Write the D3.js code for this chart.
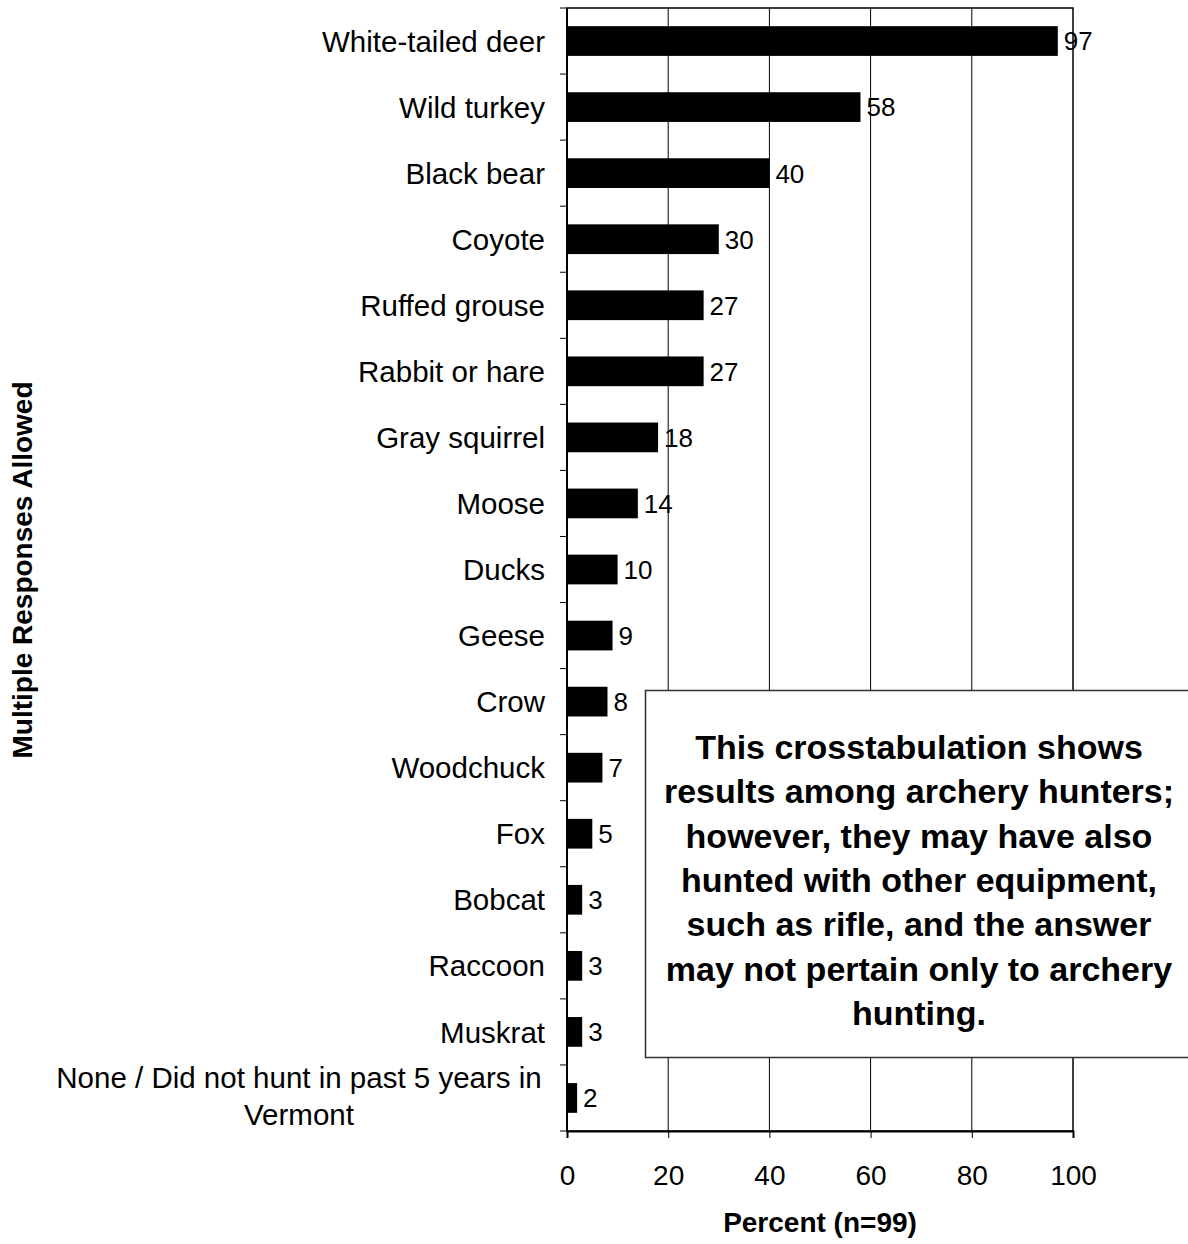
<!DOCTYPE html>
<html><head><meta charset="utf-8">
<script src="https://cdn.jsdelivr.net/npm/d3@7/dist/d3.min.js"></script>
<style>body{margin:0;background:#fff}svg{display:block;font-family:"Liberation Sans",Arial,sans-serif}</style>
</head><body><svg id="c" width="1188" height="1244"></svg>
<script>
const categories = ["White-tailed deer","Wild turkey","Black bear","Coyote","Ruffed grouse","Rabbit or hare","Gray squirrel","Moose","Ducks","Geese","Crow","Woodchuck","Fox","Bobcat","Raccoon","Muskrat","None / Did not hunt in past 5 years in Vermont"];
const values = [97,58,40,30,27,27,18,14,10,9,8,7,5,3,3,3,2];
const xTicks = [0,20,40,60,80,100];
const noteLines = ["This crosstabulation shows","results among archery hunters;","however, they may have also","hunted with other equipment,","such as rifle, and the answer","may not pertain only to archery","hunting."];

const svg = d3.select("#c");
const L=567,R=1073,T=8,B=1131;
const x = d3.scaleLinear().domain([0,100]).range([L,R]);
const y = d3.scaleBand().domain(categories).range([T,B]).paddingInner(0.55).paddingOuter(0.275);
const step = y.step();

// gridlines
svg.append("g").selectAll("line").data(xTicks.filter(d=>d>0&&d<100)).join("line")
  .attr("x1",d=>x(d)).attr("x2",d=>x(d)).attr("y1",T).attr("y2",B)
  .attr("stroke","#000").attr("stroke-width",1);
// plot border
svg.append("rect").attr("x",L).attr("y",T).attr("width",R-L).attr("height",B-T)
  .attr("fill","none").attr("stroke","#000").attr("stroke-width",1.5);

// bars
svg.append("g").selectAll("rect").data(values).join("rect")
  .attr("x",x(0)).attr("y",(d,i)=>y(categories[i]))
  .attr("width",d=>x(d)-x(0)).attr("height",y.bandwidth()).attr("fill","#000");

// y axis ticks at band boundaries
const bounds = d3.range(categories.length+1).map(i=>T+i*step);
svg.append("g").selectAll("line").data(bounds).join("line")
  .attr("x1",L-7).attr("x2",L).attr("y1",d=>d).attr("y2",d=>d).attr("stroke","#000").attr("stroke-width",1);
svg.append("line").attr("x1",L).attr("x2",L).attr("y1",T).attr("y2",B).attr("stroke","#000").attr("stroke-width",2);

// x axis
const xa = svg.append("g").attr("transform",`translate(0,${B})`)
  .call(d3.axisBottom(x).tickValues(xTicks).tickSize(7).tickPadding(27));
xa.select(".domain").attr("stroke-width",2);
xa.selectAll("line").attr("stroke","#000");
xa.selectAll("text").attr("font-size",28).attr("font-family","Liberation Sans, Arial, sans-serif").attr("fill","#000");

// category labels
const lab = svg.append("g").attr("font-size",29.5);
categories.forEach((c,i)=>{
  const cy = y(c)+y.bandwidth()/2;
  if(c.startsWith("None")){
    const t = lab.append("text").attr("text-anchor","middle");
    t.append("tspan").attr("x",299).attr("y",1088).text("None / Did not hunt in past 5 years in");
    t.append("tspan").attr("x",299).attr("y",1125).text("Vermont");
  } else {
    lab.append("text").attr("x",545).attr("y",cy).attr("dy","0.36em").attr("text-anchor","end").text(c);
  }
});

// value labels
svg.append("g").selectAll("text").data(values).join("text")
  .attr("x",d=>x(d)+6).attr("y",(d,i)=>y(categories[i])+y.bandwidth()/2).attr("dy","0.36em")
  .attr("font-size",26).text(d=>d);

// axis titles
svg.append("text").attr("x",820).attr("y",1232).attr("text-anchor","middle").attr("font-size",28).attr("font-weight","bold").text("Percent (n=99)");
svg.append("text").attr("transform","translate(32,570) rotate(-90)").attr("text-anchor","middle").attr("font-size",28).attr("font-weight","bold").text("Multiple Responses Allowed");

// note box
svg.append("rect").attr("x",645.5).attr("y",690.5).attr("width",560).attr("height",367).attr("fill","#fff").attr("stroke","#333").attr("stroke-width",1.5);
const nt = svg.append("text").attr("text-anchor","middle").attr("font-size",34).attr("font-weight","bold");
noteLines.forEach((s,i)=>nt.append("tspan").attr("x",919).attr("y",759+i*44.3).text(s));
</script></body></html>
